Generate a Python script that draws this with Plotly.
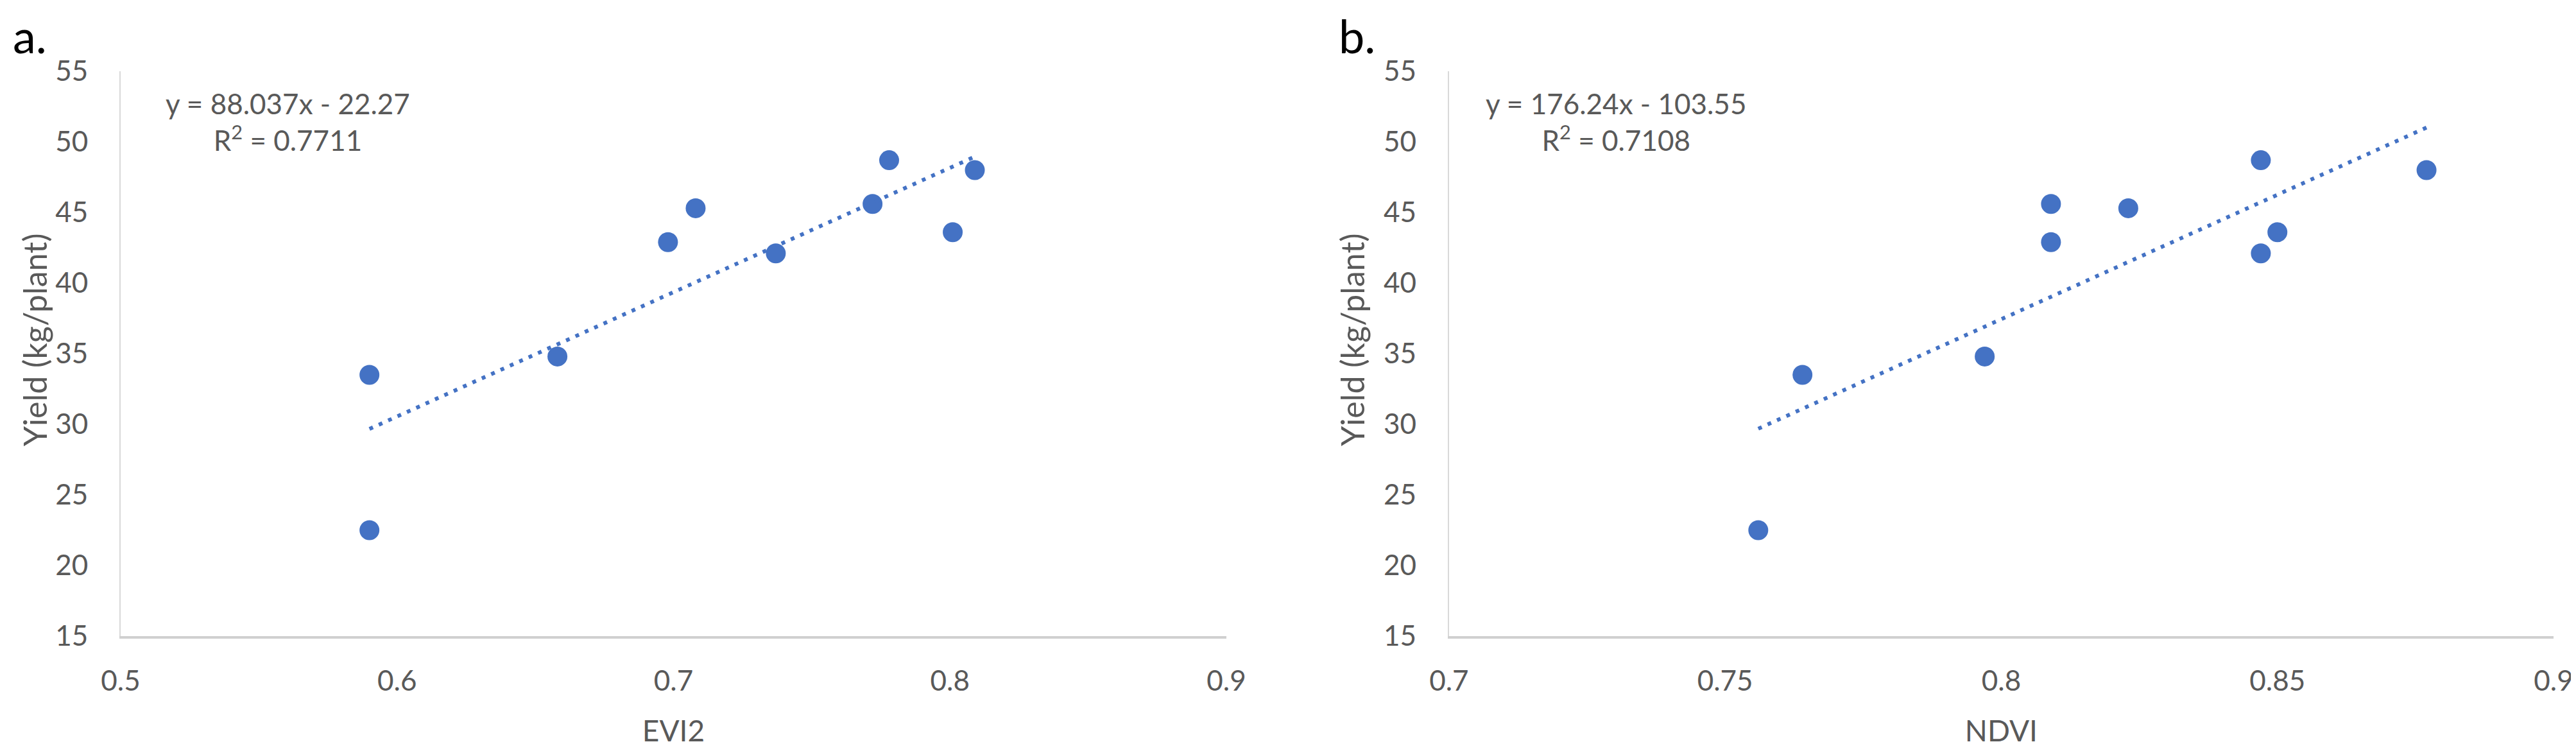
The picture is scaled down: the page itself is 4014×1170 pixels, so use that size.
import plotly.graph_objects as go

# ------------ data ------------
YIELD = [33.5, 22.5, 34.8, 42.9, 45.3, 42.1, 45.6, 48.7, 43.6, 48.0]
EVI2 = [0.590, 0.590, 0.658, 0.698, 0.708, 0.737, 0.772, 0.778, 0.801, 0.809]
NDVI = [0.764, 0.756, 0.797, 0.809, 0.823, 0.847, 0.809, 0.847, 0.850, 0.877]

# trendline coefficients as printed on the chart
EVI2_FIT = (88.037, -22.27, 0.7711)
NDVI_FIT = (176.24, -103.55, 0.7108)

EVI2_TICKS = [0.5, 0.6, 0.7, 0.8, 0.9]
NDVI_TICKS = [0.7, 0.75, 0.8, 0.85, 0.9]
Y_TICKS = [15, 20, 25, 30, 35, 40, 45, 50, 55]
Y_TITLE = "Yield (kg/plant)"

# ------------ styles ------------
BLUE = "#4472C4"
GREY_TXT = "#595959"
FONT = "Lato, 'Open Sans', sans-serif"
TICK_SIZE = 44
W, H = 4014, 1170
ML, MR, MT, MB = 180, 39, 103, 187
PW, PH = W - ML - MR, H - MT - MB


def px_to_paper(px, py):
    return (px - ML) / PW, 1 - (py - MT) / PH


def trend_xy(xs, slope, icpt):
    lo, hi = min(xs), max(xs)
    return [lo, hi], [slope * lo + icpt, slope * hi + icpt]


fig = go.Figure()

panels = [
    ("x", "y", EVI2, EVI2_FIT),
    ("x2", "y2", NDVI, NDVI_FIT),
]
for xa, ya, xs, (m, b, r2) in panels:
    fig.add_trace(go.Scatter(
        x=xs, y=YIELD, xaxis=xa, yaxis=ya, mode="markers",
        marker=dict(size=31, color=BLUE, line=dict(width=0)),
        showlegend=False,
    ))
    tx, ty = trend_xy(xs, m, b)
    fig.add_trace(go.Scatter(
        x=tx, y=ty, xaxis=xa, yaxis=ya, mode="lines",
        line=dict(color=BLUE, width=6, dash="6px,10px"),
        showlegend=False,
    ))
    sign = "-" if b < 0 else "+"
    fig.add_annotation(
        xref=f"{xa} domain", yref=f"{ya} domain", x=0.151, y=0.911,
        text=f"y = {m}x {sign} {abs(b)}<br>R<sup>2</sup> = {r2}",
        showarrow=False, align="center", xanchor="center", yanchor="middle",
        font=dict(size=TICK_SIZE, color=GREY_TXT, family=FONT),
    )

common_x = dict(
    showgrid=False, zeroline=False, showline=True, linecolor="#D0D0D0", linewidth=4,
    ticks="", ticklabelstandoff=28, tickfont=dict(size=TICK_SIZE, color=GREY_TXT, family=FONT),
    title=dict(font=dict(size=46, color=GREY_TXT, family=FONT), standoff=40),
)
common_y = dict(
    showgrid=False, zeroline=False, showline=True, linecolor="#D9D9D9", linewidth=2,
    range=[15, 55], tickvals=Y_TICKS, ticks="", ticklabelstandoff=40,
    tickfont=dict(size=TICK_SIZE, color=GREY_TXT, family=FONT),
)

fig.update_layout(
    width=W, height=H,
    margin=dict(l=ML, r=MR, t=MT, b=MB),
    paper_bgcolor="white", plot_bgcolor="white",
    font=dict(family=FONT, color=GREY_TXT),
    xaxis=dict(common_x, domain=[0, 0.4545], range=[0.5, 0.9], tickvals=EVI2_TICKS,
               title_text="EVI2"),
    yaxis=dict(common_y, anchor="x"),
    xaxis2=dict(common_x, domain=[0.546, 1], range=[0.7, 0.9], tickvals=NDVI_TICKS,
                title_text="NDVI", anchor="y2"),
    yaxis2=dict(common_y, anchor="x2"),
)

# y-axis titles (sit slightly above the plot centre, as in the original)
for xpix in (46, 2101):
    ax, ay = px_to_paper(xpix, 521)
    fig.add_annotation(
        xref="paper", yref="paper", x=ax, y=ay, text=Y_TITLE, textangle=-90,
        showarrow=False, xanchor="center", yanchor="middle",
        font=dict(size=50, color=GREY_TXT, family=FONT),
    )

# panel letters
for letter, xpix in (("a.", 10), ("b.", 2078)):
    ax, ay = px_to_paper(xpix, 47)
    fig.add_annotation(
        xref="paper", yref="paper", x=ax, y=ay,
        text=letter, showarrow=False, xanchor="left", yanchor="middle",
        font=dict(size=72, color="black", family=FONT),
    )

fig.write_html("out.html")
